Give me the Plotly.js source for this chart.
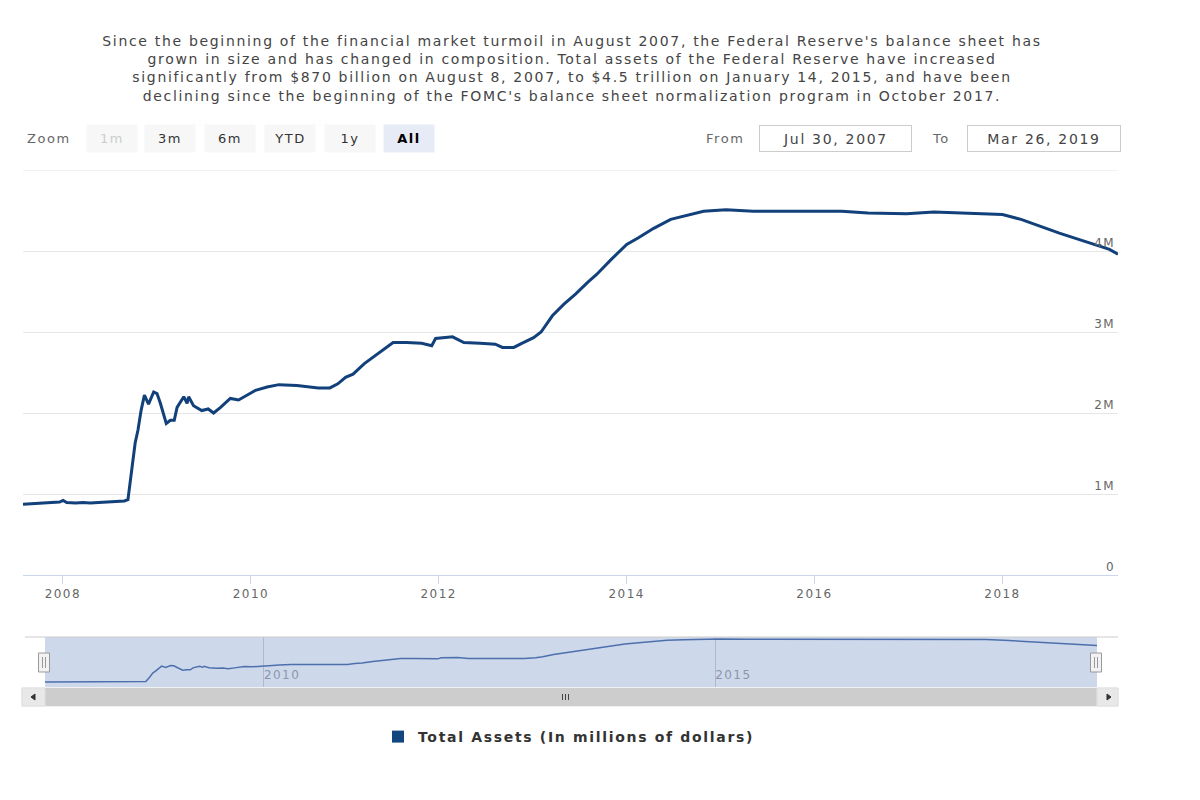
<!DOCTYPE html>
<html>
<head>
<meta charset="utf-8">
<script src="https://cdn.plot.ly/plotly-3.0.1.min.js"></script>
<style>
  html, body { margin: 0; padding: 0; background: #ffffff; }
  #chart { width: 1200px; height: 800px; }
  text { letter-spacing: 0.12em; }
</style>
</head>
<body>
<div id="chart"></div>
<script>
// ---- Data ----
const dates = [
  '2007-07-30','2007-08-29','2007-09-26','2007-10-24','2007-11-21','2007-12-19',
  '2008-01-02','2008-01-16','2008-02-20','2008-03-19','2008-04-16','2008-05-21',
  '2008-06-18','2008-07-16','2008-08-13','2008-08-27','2008-09-10','2008-09-26',
  '2008-10-08','2008-10-19','2008-10-31','2008-11-13','2008-11-29','2008-12-19',
  '2009-01-01','2009-01-14','2009-02-06','2009-02-22','2009-03-09','2009-03-20',
  '2009-04-15','2009-04-28','2009-05-04','2009-05-23','2009-06-24','2009-07-19',
  '2009-08-09','2009-09-05','2009-10-13','2009-11-14','2009-12-16','2010-01-19',
  '2010-03-05','2010-04-20','2010-06-29','2010-09-20','2010-11-04','2010-12-05',
  '2011-01-04','2011-02-02','2011-03-18','2011-04-30','2011-06-16','2011-07-08',
  '2011-08-29','2011-10-27','2011-12-05','2011-12-20','2012-02-24','2012-04-08',
  '2012-06-10','2012-08-08','2012-09-05','2012-10-19','2012-11-19','2013-01-04',
  '2013-02-02','2013-03-18','2013-05-01','2013-06-17','2013-08-01','2013-09-06',
  '2013-11-03','2014-01-01','2014-02-14','2014-04-16','2014-06-21','2014-08-26',
  '2014-10-27','2015-01-22','2015-05-08','2015-10-05','2016-01-01','2016-04-16',
  '2016-07-27','2016-12-24','2017-04-09','2017-08-04','2018-01-01','2018-03-14',
  '2018-05-30','2018-08-10','2018-10-27','2019-01-08','2019-02-21','2019-03-26'
];
// Total assets, millions of dollars
const totalAssets = [
  875000, 880000, 885000, 885000, 890000, 900000,
  920000, 895000, 890000, 895000, 890000, 895000,
  900000, 905000, 910000, 915000, 930000, 1300000,
  1630000, 1790000, 2030000, 2220000, 2110000, 2260000,
  2240000, 2120000, 1870000, 1910000, 1910000, 2070000,
  2200000, 2120000, 2200000, 2090000, 2030000, 2050000,
  2000000, 2070000, 2180000, 2160000, 2220000, 2280000,
  2320000, 2350000, 2340000, 2310000, 2310000, 2360000,
  2440000, 2480000, 2610000, 2710000, 2830000, 2870000,
  2870000, 2860000, 2830000, 2920000, 2940000, 2870000,
  2860000, 2850000, 2810000, 2810000, 2860000, 2930000,
  3000000, 3200000, 3340000, 3470000, 3610000, 3710000,
  3900000, 4080000, 4160000, 4280000, 4390000, 4440000,
  4490000, 4510000, 4490000, 4490000, 4490000, 4490000,
  4470000, 4460000, 4480000, 4470000, 4450000, 4390000,
  4300000, 4220000, 4140000, 4060000, 4020000, 3960000
];
const seriesName = 'Total Assets (In millions of dollars)';
const yTickVals = [0, 1000000, 2000000, 3000000, 4000000, 5000000];
const yTickText = ['0', '1M', '2M', '3M', '4M', ''];
const yTop = 5000000;
const zoomButtons = ['1m', '3m', '6m', 'YTD', '1y', 'All'];
const fromDate = 'Jul 30, 2007';
const toDate = 'Mar 26, 2019';
const titleLines = [
  "Since the beginning of the financial market turmoil in August 2007, the Federal Reserve's balance sheet has",
  "grown in size and has changed in composition. Total assets of the Federal Reserve have increased",
  "significantly from $870 billion on August 8, 2007, to $4.5 trillion on January 14, 2015, and have been",
  "declining since the beginning of the FOMC's balance sheet normalization program in October 2017."
];

// ---- helpers: pixel -> paper ----
const W = 1200, H = 800;
const X = px => px / W;
const Y = py => 1 - py / H;
const FONT = 'DejaVu Sans, Verdana, sans-serif';
const LINE_COLOR = '#11407a';

const traces = [
  {
    type: 'scatter', mode: 'lines', x: dates, y: totalAssets, name: seriesName,
    line: { color: LINE_COLOR, width: 3 }, showlegend: false, xaxis: 'x', yaxis: 'y'
  },
  {
    type: 'scatter', mode: 'lines', x: dates, y: totalAssets, name: seriesName + ' (navigator)',
    line: { color: '#4d70ad', width: 1.5 }, showlegend: false, xaxis: 'x2', yaxis: 'y2',
    hoverinfo: 'skip'
  },
  {
    type: 'bar', x: [null], y: [null], name: seriesName,
    marker: { color: '#12467f' }, showlegend: true, hoverinfo: 'skip'
  }
];

const shapes = [
  // top gridline of the main plot (at the top of the value range)
  { type: 'line', xref: 'x domain', yref: 'y', x0: 0, x1: 1, y0: yTop, y1: yTop,
    line: { color: '#e6e6e6', width: 1 }, layer: 'below' },
  // navigator background (selected mask covers whole range)
  { type: 'rect', xref: 'paper', yref: 'paper', x0: X(45), x1: X(1097), y0: Y(687), y1: Y(637),
    fillcolor: 'rgba(102,133,194,0.32)', line: { width: 0 }, layer: 'below' },
  // navigator top outline
  { type: 'line', xref: 'paper', yref: 'paper', x0: X(25), x1: X(1118), y0: Y(637), y1: Y(637),
    line: { color: '#cccccc', width: 1 } },
  // scrollbar track
  { type: 'rect', xref: 'paper', yref: 'paper', x0: X(22), x1: X(1118), y0: Y(706), y1: Y(688),
    fillcolor: '#f2f2f2', line: { color: '#e3e3e3', width: 1 } },
  // scrollbar thumb
  { type: 'rect', xref: 'paper', yref: 'paper', x0: X(45), x1: X(1097), y0: Y(706), y1: Y(688),
    fillcolor: '#cdcdcd', line: { width: 0 } },
  // scrollbar buttons
  { type: 'rect', xref: 'paper', yref: 'paper', x0: X(22), x1: X(45), y0: Y(706), y1: Y(688),
    fillcolor: '#e8e8e8', line: { color: '#e0e0e0', width: 1 } },
  { type: 'rect', xref: 'paper', yref: 'paper', x0: X(1097), x1: X(1118), y0: Y(706), y1: Y(688),
    fillcolor: '#e8e8e8', line: { color: '#e0e0e0', width: 1 } },
  // grip
  { type: 'line', xref: 'paper', yref: 'paper', x0: X(562.5), x1: X(562.5), y0: Y(700), y1: Y(694), line: { color: '#444', width: 1 } },
  { type: 'line', xref: 'paper', yref: 'paper', x0: X(565.5), x1: X(565.5), y0: Y(700), y1: Y(694), line: { color: '#444', width: 1 } },
  { type: 'line', xref: 'paper', yref: 'paper', x0: X(568.5), x1: X(568.5), y0: Y(700), y1: Y(694), line: { color: '#444', width: 1 } },
  // arrows
  { type: 'path', xref: 'paper', yref: 'paper',
    path: `M ${X(31)},${Y(697)} L ${X(35)},${Y(694)} L ${X(35)},${Y(700)} Z`,
    fillcolor: '#333', line: { color: '#333', width: 1 } },
  { type: 'path', xref: 'paper', yref: 'paper',
    path: `M ${X(1111)},${Y(697)} L ${X(1107)},${Y(694)} L ${X(1107)},${Y(700)} Z`,
    fillcolor: '#333', line: { color: '#333', width: 1 } },
  // navigator handles
  { type: 'rect', xref: 'paper', yref: 'paper', x0: X(38.5), x1: X(49.5), y0: Y(672), y1: Y(653),
    fillcolor: '#f2f2f2', line: { color: '#999999', width: 1 } },
  { type: 'line', xref: 'paper', yref: 'paper', x0: X(42.5), x1: X(42.5), y0: Y(668), y1: Y(657), line: { color: '#999', width: 1 } },
  { type: 'line', xref: 'paper', yref: 'paper', x0: X(45.5), x1: X(45.5), y0: Y(668), y1: Y(657), line: { color: '#999', width: 1 } },
  { type: 'rect', xref: 'paper', yref: 'paper', x0: X(1090.5), x1: X(1101.5), y0: Y(672), y1: Y(653),
    fillcolor: '#f2f2f2', line: { color: '#999999', width: 1 } },
  { type: 'line', xref: 'paper', yref: 'paper', x0: X(1094.5), x1: X(1094.5), y0: Y(668), y1: Y(657), line: { color: '#999', width: 1 } },
  { type: 'line', xref: 'paper', yref: 'paper', x0: X(1097.5), x1: X(1097.5), y0: Y(668), y1: Y(657), line: { color: '#999', width: 1 } }
];

const annotations = [];
function addText(text, xpx, ypx, opts) {
  annotations.push(Object.assign({
    xref: 'paper', yref: 'paper', x: X(xpx), y: Y(ypx), text: text, showarrow: false,
    xanchor: 'center', yanchor: 'middle'
  }, opts));
}
addText('Zoom', 25, 139, { xanchor: 'left', font: { family: FONT, size: 13, color: '#666666' } });
const btnCenters = [112, 170, 230, 290, 350, 409];
zoomButtons.forEach((b, i) => {
  const active = b === 'All';
  const disabled = b === '1m';
  addText(b, btnCenters[i], 138.5, {
    width: 50, height: 27, borderpad: 0, bgcolor: active ? '#e6ebf5' : '#f7f7f7',
    font: { family: FONT, size: 13, color: disabled ? '#cccccc' : (active ? '#000000' : '#333333'),
            weight: active ? 'bold' : 'normal' }
  });
});
addText('From', 746, 139, { xanchor: 'right', font: { family: FONT, size: 13, color: '#666666' } });
addText(fromDate, 835.5, 138.5, { width: 151, height: 25, borderpad: 0, borderwidth: 1, bordercolor: '#cccccc',
  bgcolor: '#ffffff', font: { family: FONT, size: 14, color: '#444444' } });
addText('To', 941, 139, { font: { family: FONT, size: 13, color: '#666666' } });
addText(toDate, 1044, 138.5, { width: 152, height: 25, borderpad: 0, borderwidth: 1, bordercolor: '#cccccc',
  bgcolor: '#ffffff', font: { family: FONT, size: 14, color: '#444444' } });

const layout = {
  width: W, height: H,
  margin: { l: 0, r: 0, t: 0, b: 0 },
  paper_bgcolor: '#ffffff', plot_bgcolor: 'rgba(0,0,0,0)',
  title: {
    text: titleLines.join('<br>'),
    font: { family: FONT, size: 14, color: '#444444' },
    x: X(572), xanchor: 'center', xref: 'paper',
    y: Y(46), yanchor: 'top', yref: 'paper'
  },
  showlegend: true,
  legend: {
    x: X(378), y: Y(721), xanchor: 'left', yanchor: 'top', orientation: 'h',
    bgcolor: 'rgba(0,0,0,0)', borderwidth: 0,
    font: { family: FONT, size: 14, color: '#333333', weight: 'bold' }
  },
  xaxis: {
    type: 'date', domain: [X(23), X(1118)], anchor: 'y',
    range: ['2007-07-30', '2019-03-26'],
    tick0: '2008-01-01', dtick: 'M24', tickformat: '%Y',
    showgrid: false, zeroline: false,
    showline: true, linecolor: '#ccd6eb', linewidth: 1,
    ticks: 'outside', ticklen: 8, tickcolor: '#ccd6eb', tickwidth: 1,
    tickfont: { family: FONT, size: 12, color: '#666666' },
    fixedrange: true
  },
  yaxis: {
    domain: [Y(575), Y(170)], anchor: 'x', range: [0, yTop],
    tickvals: yTickVals, ticktext: yTickText,
    side: 'right', ticklabelposition: 'inside', ticklabelshift: -8,
    ticks: '', showgrid: true, gridcolor: '#e6e6e6', gridwidth: 1,
    zeroline: false, showline: false,
    tickfont: { family: FONT, size: 12, color: '#666666' },
    fixedrange: true
  },
  xaxis2: {
    type: 'date', domain: [X(45), X(1097)], anchor: 'y2',
    range: ['2007-07-30', '2019-03-26'],
    tick0: '2010-01-01', dtick: 'M60', tickformat: '%Y',
    showgrid: true, gridcolor: '#aeb9d1', gridwidth: 1,
    zeroline: false, showline: false, ticks: '',
    ticklabelposition: 'inside right',
    tickfont: { family: FONT, size: 12, color: '#8c96ab' },
    fixedrange: true
  },
  yaxis2: {
    domain: [Y(687), Y(637)], anchor: 'x2', range: [460000, 4670000],
    visible: false, showgrid: false, zeroline: false, fixedrange: true
  },
  shapes: shapes,
  annotations: annotations,
  hovermode: false
};

Plotly.newPlot('chart', traces, layout, { displayModeBar: false, staticPlot: true });
</script>
</body>
</html>
